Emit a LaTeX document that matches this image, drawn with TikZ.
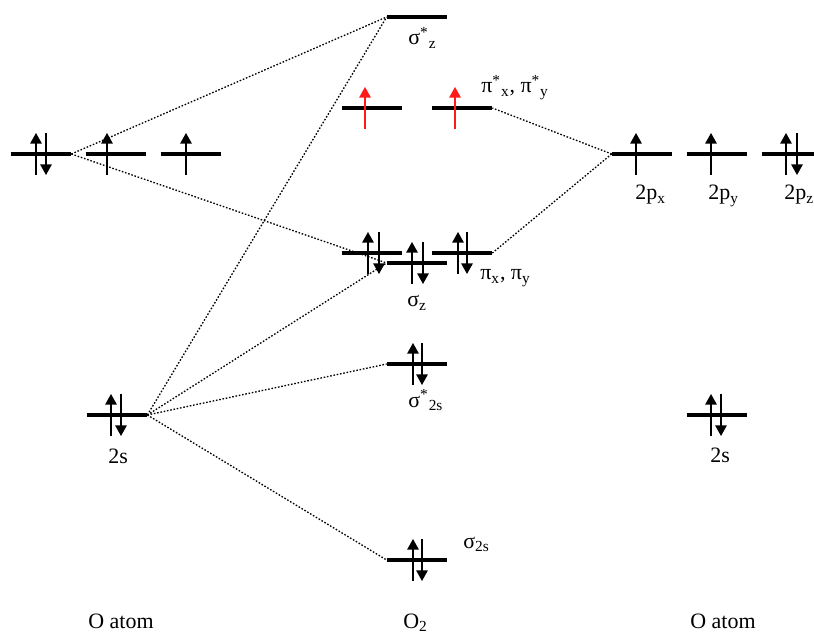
\documentclass[tikz,border=0pt]{standalone}
\usepackage{fontspec}
\setmainfont{Liberation Serif}
\usepackage{xcolor}
\usetikzlibrary{arrows.meta}
\definecolor{spinred}{HTML}{FF1A1A}
\definecolor{inkc}{HTML}{000000}

\begin{document}
\begin{tikzpicture}[x=0.02cm, y=-0.02cm,
    lvl/.style={minimum width=1.2cm, minimum height=0pt, inner sep=0pt},
    lvlline/.style={line width=1.8pt, inkc},
    spin/.style={line width=0.8pt, inkc, -{Triangle[width=6.5pt, length=6pt]}},
    redspin/.style={spin, spinred},
    link/.style={line width=0.75pt, inkc, dash pattern=on 0.9pt off 1pt},
    lbl/.style={font=\fontsize{12.5}{15}\selectfont, inner sep=0pt, anchor=base west}]
    \useasboundingbox (0,0) rectangle (814,634);
    % atomic levels, left O
    \node[lvl] (Lp1) at (41,154) {};
    \node[lvl] (Lp2) at (116,154) {};
    \node[lvl] (Lp3) at (191,154) {};
    \node[lvl] (Ls) at (117,415) {};
    % molecular levels
    \node[lvl] (sigzstar) at (417,17) {};
    \node[lvl] (pistar1) at (372,108) {};
    \node[lvl] (pistar2) at (462,108) {};
    \node[lvl] (pi1) at (372,253) {};
    \node[lvl] (pi2) at (462,253) {};
    \node[lvl] (sigz) at (417,263) {};
    \node[lvl] (sigsstar) at (417,364) {};
    \node[lvl] (sigs) at (417,560) {};
    % atomic levels, right O
    \node[lvl] (Rp1) at (642,154) {};
    \node[lvl] (Rp2) at (717,154) {};
    \node[lvl] (Rp3) at (792,154) {};
    \node[lvl] (Rs) at (717,415) {};
    % correlation lines
    \draw[link] (Lp1.east) -- (sigzstar.west);
    \draw[link] (Lp1.east) -- (sigz.west);
    \draw[link] (Ls.east) -- (sigzstar.west);
    \draw[link] (Ls.east) -- (sigz.west);
    \draw[link] (Ls.east) -- (sigsstar.west);
    \draw[link] (Ls.east) -- (sigs.west);
    \draw[link] (Rp1.west) -- (pistar2.east);
    \draw[link] (Rp1.west) -- (pi2.east);
    \foreach \n in {Lp1,Lp2,Lp3,Ls,sigzstar,pistar1,pistar2,pi1,pi2,sigz,sigsstar,sigs,Rp1,Rp2,Rp3,Rs}
      \draw[lvlline] (\n.west) -- (\n.east);
    % electrons
    \foreach \n/\dx in {Lp1/-5,Lp2/-9,Lp3/-5,Ls/-6,pi1/-4,pi2/-4,sigz/-5,sigsstar/-4,sigs/-4,Rp1/-6,Rp2/-6,Rp3/-6,Rs/-6}
      \draw[spin] ([shift={(\dx,21)}]\n.center) -- ++(0,-42);
    \foreach \n/\dx in {Lp1/5,Ls/4,pi1/7,pi2/5,sigz/6,sigsstar/5,sigs/5,Rp3/5,Rs/4}
      \draw[spin] ([shift={(\dx,-21)}]\n.center) -- ++(0,42);
    \foreach \n in {pistar1,pistar2}
      \draw[redspin] ([shift={(-7,21)}]\n.center) -- ++(0,-42);
    % labels
    \node[lbl] (tsigzstar) at (408,45) {σ\textsuperscript{*}\textsubscript{z}};
    \node[lbl] (tpistar) at (481,93) {π\textsuperscript{*}\textsubscript{x}, π\textsuperscript{*}\textsubscript{y}};
    \node[lbl] (tpi) at (480,280) {π\textsubscript{x}, π\textsubscript{y}};
    \node[lbl] (tsigz) at (407,307) {σ\textsubscript{z}};
    \node[lbl] (tsigsstar) at (408,407) {σ\textsuperscript{*}\textsubscript{2s}};
    \node[lbl] (tsigs) at (463,548) {σ\textsubscript{2s}};
    \node[lbl] (tLs) at (108,463) {2s};
    \node[lbl] (tRs) at (710,462) {2s};
    \node[lbl] (tRp1) at (635,200) {2p\textsubscript{x}};
    \node[lbl] (tRp2) at (708,200) {2p\textsubscript{y}};
    \node[lbl] (tRp3) at (784,200) {2p\textsubscript{z}};
    \node[lbl] (tLatom) at (88,628) {O atom};
    \node[lbl] (tmol) at (403,628) {O\textsubscript{2}};
    \node[lbl] (tRatom) at (690,628) {O atom};
  \end{tikzpicture}
\end{document}
